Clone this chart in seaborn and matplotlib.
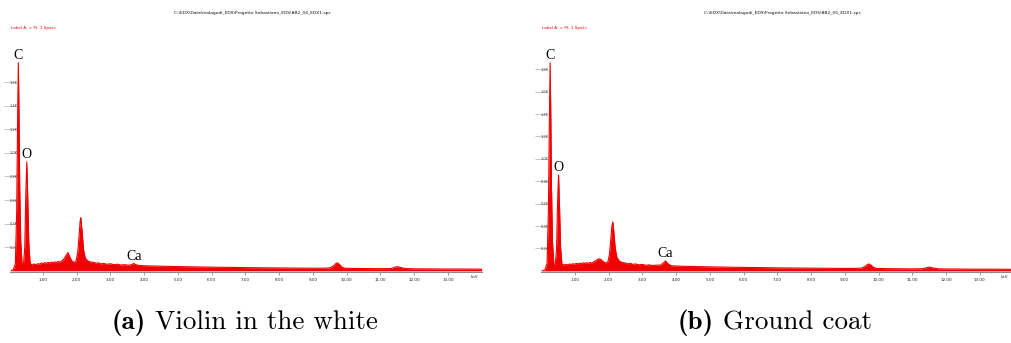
import matplotlib
matplotlib.use("Agg")
import matplotlib.pyplot as plt
import seaborn as sns
import pandas as pd

# ---- spectrum data (energy in keV, counts) ----
energy_a = [0.05, 0.12, 0.18, 0.22, 0.25, 0.27, 0.29, 0.31, 0.34, 0.38, 0.42, 0.46, 0.49, 0.52,
            0.55, 0.58, 0.62, 0.68, 0.72, 0.78, 0.85, 0.90, 0.95, 1.00, 1.05, 1.10, 1.15, 1.20,
            1.25, 1.30, 1.35, 1.40, 1.45, 1.50, 1.55, 1.62,
            1.68, 1.74, 1.79, 1.85, 1.92, 1.98, 2.03, 2.07, 2.10, 2.12, 2.16, 2.20, 2.25, 2.32,
            2.40, 2.50, 2.58, 2.65, 2.72, 2.80, 2.90, 3.00, 3.10, 3.20, 3.30, 3.40, 3.55, 3.64,
            3.69, 3.75, 3.85, 4.10, 4.40,
            4.70, 5.00, 5.40, 5.80, 6.20, 6.60, 7.00, 7.40, 7.80, 8.20, 8.60, 9.00, 9.30, 9.50,
            9.60, 9.67, 9.72, 9.78, 9.86, 9.95, 10.2, 10.6, 11.0, 11.3, 11.42, 11.5, 11.6, 11.75,
            12.0, 12.5, 13.0, 13.5, 14.0]
counts_a = [0, 10, 60, 500, 1350, 1763, 1300, 700, 250, 60, 50, 200, 650, 924,
            600, 220, 60, 50, 58, 52, 60, 57, 66, 61, 70, 64, 72, 66,
            75, 68, 76, 71, 79, 73, 84, 100,
            130, 155, 120, 85, 70, 85, 160, 300, 420, 450, 330, 180, 110, 85,
            75, 72, 64, 68, 58, 63, 55, 60, 52, 56, 49, 52, 47, 55,
            62, 52, 45, 42, 40,
            38, 36, 34, 32, 30, 29, 27, 26, 25, 24, 23, 22, 22, 25,
            40, 60, 68, 55, 30, 22, 20, 19, 18, 19, 30, 35, 28, 19,
            17, 16, 15, 15, 14]

energy_b = [0.03, 0.12, 0.18, 0.22, 0.25, 0.27, 0.29, 0.31, 0.34, 0.38, 0.42, 0.46, 0.49, 0.52,
            0.55, 0.58, 0.62, 0.68, 0.72, 0.78, 0.85, 0.90, 0.95, 1.00, 1.05, 1.10, 1.15, 1.20,
            1.25, 1.30, 1.35, 1.40, 1.45, 1.50, 1.55, 1.62,
            1.68, 1.74, 1.79, 1.85, 1.92, 1.98, 2.03, 2.07, 2.10, 2.13, 2.16, 2.20, 2.25, 2.32,
            2.40, 2.50, 2.58, 2.65, 2.72, 2.80, 2.90, 3.00, 3.10, 3.20, 3.30, 3.40, 3.55, 3.62,
            3.69, 3.76, 3.85, 4.10, 4.40,
            4.70, 5.00, 5.40, 5.80, 6.20, 6.60, 7.00, 7.40, 7.80, 8.20, 8.60, 9.00, 9.30, 9.50,
            9.60, 9.67, 9.72, 9.78, 9.86, 9.95, 10.2, 10.6, 11.0, 11.3, 11.42, 11.5, 11.6, 11.75,
            12.0, 12.5, 13.0, 13.5, 13.93]
counts_b = [0, 10, 70, 550, 1400, 1857, 1400, 750, 260, 60, 50, 190, 600, 857,
            560, 210, 60, 52, 58, 54, 61, 57, 64, 60, 67, 62, 69, 64,
            72, 66, 73, 68, 75, 70, 78, 90,
            105, 107, 98, 80, 70, 80, 150, 290, 400, 438, 340, 200, 120, 88,
            75, 70, 63, 67, 58, 62, 54, 58, 50, 54, 48, 51, 52, 70,
            89, 65, 46, 42, 40,
            38, 36, 34, 32, 30, 29, 27, 26, 25, 24, 23, 22, 22, 25,
            40, 56, 62, 50, 30, 22, 20, 19, 18, 19, 28, 34, 27, 19,
            17, 16, 15, 15, 14]

xtick_values = [1, 2, 3, 4, 5, 6, 7, 8, 9, 10, 11, 12, 13]
ytick_values_a = [200, 400, 600, 800, 1000, 1200, 1400, 1600]
ytick_values_b = [200, 400, 600, 800, 1000, 1200, 1400, 1600, 1800]

panels = [
    dict(energy=energy_a, counts=counts_a, yticks=ytick_values_a,
         path=r"C:\EDX\Data\malagodi_EDS\Progetto Sebastiano_EDS\AB2_04_EDX1.spc",
         peaks=[("C", 0.27, 1763), ("O", 0.52, 924), ("Ca", 3.69, 62)],
         tag="(a)", caption="Violin in the white"),
    dict(energy=energy_b, counts=counts_b, yticks=ytick_values_b,
         path=r"C:\EDX\Data\malagodi_EDS\Progetto Sebastiano_EDS\AB2_05_EDX1.spc",
         peaks=[("C", 0.27, 1857), ("O", 0.52, 857), ("Ca", 3.69, 89)],
         tag="(b)", caption="Ground coat"),
]

sns.set_theme(style="white")
W, H = 1011, 343
fig = plt.figure(figsize=(W / 100, H / 100), dpi=100)

# axes frames in pixel units: (left, right, px-per-count)
frames = [(10, 482, 0.118), (541, 1011, 0.112)]
axis_y, top_y = 272, 45
red = "#f20000"

for (x0, x1, ppc), p in zip(frames, panels):
    ax = fig.add_axes([x0 / W, 1 - axis_y / H, (x1 - x0) / W, (axis_y - top_y) / H])
    ax.patch.set_alpha(0)
    kev_per_px = 1 / 33.75
    zero_px = 9.25 if x0 < 100 else 541
    ax.set_xlim((x0 - zero_px) * kev_per_px, (x1 - zero_px) * kev_per_px)
    ybot = -10
    ax.set_ylim(ybot, ybot + (axis_y - top_y) / ppc)

    df = pd.DataFrame({"energy": p["energy"], "counts": p["counts"]})
    ax.fill_between(df["energy"], 0, df["counts"], color=red, lw=0, zorder=2)
    sns.lineplot(data=df, x="energy", y="counts", ax=ax, color=red, lw=0.8, zorder=3)

    for s in ["top", "right", "left"]:
        ax.spines[s].set_visible(False)
    ax.spines["bottom"].set_color("#8a8a8a")
    ax.spines["bottom"].set_linewidth(0.8)

    ax.set_xticks(xtick_values)
    ax.set_xticklabels([f"{v:.2f}" for v in xtick_values])
    ax.tick_params(axis="x", direction="out", length=2.5, width=0.5, color="#777777",
                   labelsize=3, labelcolor="#222222", pad=1.5, bottom=True)
    ax.set_yticks(p["yticks"])
    ax.set_yticklabels([f"{v / 1000:.1f}K" for v in p["yticks"]])
    ax.tick_params(axis="y", direction="inout", length=8, width=0.4, color="#999999",
                   labelsize=2.6, labelcolor="#444444", pad=-4, left=True)
    for lab in ax.get_yticklabels():
        lab.set_horizontalalignment("left")
    ax.set_xlabel("keV", fontsize=3, color="#222222")
    ax.xaxis.set_label_coords(0.985, -0.012)
    ax.xaxis.label.set_verticalalignment("top")
    ax.set_ylabel("")
    ax.grid(False)

    for name, e, c in p["peaks"]:
        ax.text(e, c + 1 / ppc, name, ha="center", va="bottom",
                family="Liberation Serif", fontsize=10, color="black", zorder=4)

    cx = (x0 + x1) / 2
    fig.text(cx / W + 0.006, 1 - 13 / H, p["path"], ha="center", va="center",
             fontsize=3.2, color="#111111")
    fig.text((x0 + 1) / W, 1 - 28 / H, "Label A: < Pt. 1 Spot>", ha="left", va="center",
             fontsize=3, color=red)

# sub-captions: bold tag followed by the caption text
cap_size = 19.5
for cx, p in zip([245, 775], panels):
    t = fig.text(0, 0, p["tag"] + " " + p["caption"], fontsize=cap_size, family="cmr10")
    fig.canvas.draw()
    w = t.get_window_extent().width
    t.remove()
    tb = fig.text((cx - w / 2) / W, 1 - 323 / H, p["tag"], ha="left", va="center",
                  fontsize=cap_size, family="cmb10", color="black")
    plt.annotate(" " + p["caption"], xy=(1, 0.5), xycoords=tb, va="center", ha="left",
                 fontsize=cap_size, family="cmr10", color="black", annotation_clip=False)

fig.savefig("out.png", dpi=100)
